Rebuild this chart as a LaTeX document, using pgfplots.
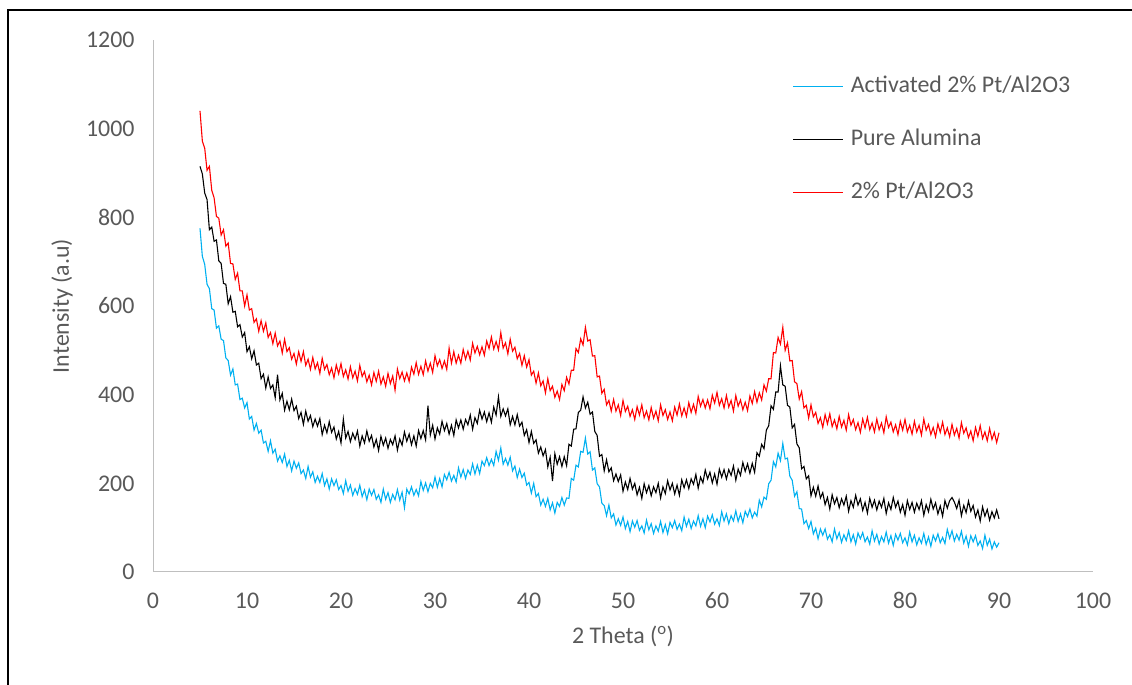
\documentclass[border=0pt]{standalone}
\usepackage{fontspec}
\setmainfont{Carlito}
\usepackage{pgfplots}
\usepackage{pgfplotstable}
\pgfplotsset{compat=1.18}
\definecolor{txt}{HTML}{595959}
\definecolor{axl}{HTML}{BFBFBF}
\definecolor{xblue}{HTML}{00B0F0}
\definecolor{xred}{HTML}{FF0000}
\pgfplotstableread{
x r k b
5.00 1040 915 775
5.25 972 898 712
5.50 956 855 694
5.75 906 840 649
6.00 915 772 639
6.25 861 778 594
6.50 844 746 591
6.75 802 749 550
7.00 798 702 555
7.25 760 696 525
7.50 772 651 522
7.75 735 649 483
8.00 742 605 477
8.25 696 621 444
8.50 695 586 458
8.75 660 588 422
9.00 674 553 424
9.25 634 558 389
9.50 634 530 392
9.75 600 540 370
10.00 625 497 382
10.25 591 508 345
10.50 594 481 351
10.75 563 499 320
11.00 571 467 335
11.25 543 471 313
11.50 567 436 320
11.75 543 446 291
12.00 562 415 295
12.25 529 440 272
12.50 540 414 296
12.75 515 422 268
13.00 539 393 277
13.25 510 445 250
13.50 521 388 262
13.75 494 403 247
14.00 525 365 266
14.25 497 385 238
14.50 506 366 252
14.75 480 390 228
15.00 493 364 250
15.25 469 374 234
15.50 497 346 246
15.75 475 360 222
16.00 497 333 230
16.25 466 363 211
16.50 480 340 238
16.75 457 353 214
17.00 484 328 226
17.25 458 345 202
17.50 472 329 216
17.75 448 346 202
18.00 482 310 222
18.25 457 331 195
18.50 468 314 210
18.75 445 339 187
19.00 460 315 210
19.25 438 327 195
19.50 467 300 208
19.75 447 317 186
20.00 470 291 195
20.25 441 345 177
20.50 456 302 206
20.75 435 317 182
21.00 463 294 196
21.25 438 313 173
21.50 453 299 188
21.75 431 318 175
22.00 466 284 196
22.25 441 307 170
22.50 452 291 185
22.75 429 318 163
23.00 444 295 187
23.25 422 308 173
23.50 450 282 186
23.75 430 299 164
24.00 453 274 174
24.25 424 306 157
24.50 440 286 187
24.75 419 302 164
25.00 448 279 179
25.25 425 299 157
25.50 442 287 175
25.75 410 307 163
26.00 458 275 186
26.25 436 300 162
26.50 451 286 180
26.75 431 316 145
27.00 449 295 187
27.25 430 311 176
27.50 462 287 192
27.75 446 307 173
28.00 472 284 186
28.25 446 319 172
28.50 464 301 204
28.75 445 319 184
29.00 476 298 201
29.25 453 375 181
29.50 471 309 200
29.75 450 331 190
30.00 488 300 214
30.25 465 325 191
30.50 479 311 211
30.75 459 340 192
31.00 476 319 220
31.25 457 335 208
31.50 505 311 225
31.75 471 331 205
32.00 497 308 218
32.25 471 343 203
32.50 489 325 235
32.75 471 343 214
33.00 502 322 231
33.25 480 344 211
33.50 498 332 230
33.75 478 354 220
34.00 516 322 244
34.25 494 348 221
34.50 509 335 241
34.75 490 365 222
35.00 508 345 250
35.25 489 361 240
35.50 521 339 258
35.75 504 359 240
36.00 530 338 254
36.25 503 372 240
36.50 520 354 272
36.75 501 395 252
37.00 540 351 280
37.25 505 368 243
37.50 517 352 256
37.75 492 368 241
38.00 525 332 259
38.25 498 351 228
38.50 507 332 239
38.75 481 355 213
39.00 493 329 232
39.25 466 338 213
39.50 488 308 223
39.75 462 321 196
40.00 479 292 202
40.25 444 317 178
40.50 453 290 200
40.75 426 298 170
41.00 449 268 177
41.25 420 282 151
41.50 431 262 164
41.75 404 276 148
42.00 436 237 166
42.25 409 259 140
42.50 419 205 156
42.75 394 267 133
43.00 408 243 157
43.25 389 260 148
43.50 423 238 168
43.75 409 260 151
44.00 439 240 167
44.25 424 288 166
44.50 455 284 211
44.75 455 322 207
45.00 504 323 241
45.25 495 360 237
45.50 526 365 272
45.75 512 395 270
46.00 552 370 302
46.25 521 383 266
46.50 524 356 271
46.75 487 361 230
47.00 488 317 235
47.25 440 308 199
47.50 442 261 192
47.75 403 265 155
48.00 412 228 150
48.25 377 253 127
48.50 387 226 151
48.75 363 235 122
49.00 389 206 131
49.25 363 221 106
49.50 377 204 120
49.75 353 219 105
50.00 387 182 124
50.25 362 203 98
50.50 374 186 114
50.75 351 211 91
51.00 366 187 115
51.25 344 200 101
51.50 373 174 116
51.75 354 191 94
52.00 377 166 104
52.25 348 199 88
52.50 363 179 117
52.75 343 195 95
53.00 371 172 109
53.25 347 192 87
53.50 363 179 104
53.75 341 200 92
54.00 377 167 114
54.25 353 192 89
54.50 366 177 107
54.75 344 206 86
55.00 361 185 112
55.25 341 200 100
55.50 372 176 116
55.75 354 196 96
56.00 379 173 108
56.25 352 208 93
56.50 370 190 124
56.75 351 208 103
57.00 382 188 119
57.25 360 210 98
57.50 378 198 115
57.75 358 220 104
58.00 396 189 127
58.25 374 214 103
58.50 389 201 120
58.75 370 230 100
59.00 388 210 126
59.25 368 225 113
59.50 399 201 129
59.75 381 221 108
60.00 405 198 120
60.25 376 232 105
60.50 391 214 136
60.75 370 231 115
61.00 398 210 131
61.25 372 231 109
61.50 387 218 127
61.75 363 239 115
62.00 398 207 138
62.25 374 232 114
62.50 388 218 131
62.75 366 247 111
63.00 383 227 137
63.25 364 244 125
63.50 397 223 142
63.75 380 245 122
64.00 407 225 135
64.25 383 269 126
64.50 404 261 162
64.75 388 288 147
65.00 422 278 169
65.25 408 320 164
65.50 436 330 199
65.75 436 375 207
66.00 495 367 249
66.25 494 406 237
66.50 529 406 268
66.75 514 465 251
67.00 552 422 290
67.25 500 419 255
67.50 517 376 257
67.75 476 372 216
68.00 477 325 207
68.25 429 333 171
68.50 425 289 181
68.75 390 280 143
69.00 407 233 142
69.25 370 238 109
69.50 376 210 116
69.75 347 217 98
70.00 377 172 114
70.25 350 191 86
70.50 360 171 99
70.75 335 194 75
71.00 348 167 97
71.25 326 179 83
71.50 355 152 97
71.75 334 168 74
72.00 357 142 84
72.25 328 174 68
72.50 343 154 97
72.75 323 168 75
73.00 351 145 89
73.25 327 165 67
73.50 342 151 84
73.75 320 171 71
74.00 355 137 93
74.25 331 161 68
74.50 344 146 84
74.75 321 173 63
75.00 337 151 88
75.25 315 165 75
75.50 345 139 89
75.75 325 157 68
76.00 349 133 79
76.25 321 166 63
76.50 336 146 93
76.75 316 162 70
77.00 345 140 85
77.25 321 160 63
77.50 336 146 80
77.75 314 166 68
78.00 350 132 90
78.25 326 156 65
78.50 338 141 82
78.75 316 168 60
79.00 332 146 85
79.25 310 160 72
79.50 340 135 87
79.75 320 152 66
80.00 344 128 77
80.25 316 161 61
80.50 331 141 90
80.75 311 157 68
81.00 340 135 83
81.25 316 155 61
81.50 331 141 77
81.75 309 161 65
82.00 345 128 87
82.25 320 152 62
82.50 333 136 79
82.75 310 164 58
83.00 326 142 83
83.25 305 156 70
83.50 334 131 86
83.75 315 149 66
84.00 338 126 78
84.25 310 161 64
84.50 325 144 96
84.75 305 161 76
85.00 333 168 93
85.25 309 158 70
85.50 324 143 85
85.75 302 162 72
86.00 337 127 92
86.25 313 150 65
86.50 325 134 81
86.75 303 160 58
87.00 318 137 82
87.25 296 150 68
87.50 326 124 82
87.75 306 140 60
88.00 330 115 70
88.25 301 147 53
88.50 316 126 83
88.75 296 141 60
89.00 324 117 74
89.25 299 136 52
89.50 315 122 68
89.75 292 140 56
90.00 314 120 66
}\xrd

\begin{document}
\begin{tikzpicture}
\useasboundingbox (0,0) rectangle (1132bp,685bp);
\draw[line width=1.5bp, black] (8bp,-5bp) -- (8bp,675bp) -- (1140bp,675bp);
\begin{axis}[
  at={(153bp,113bp)}, anchor=south west,
  scale only axis, width=940bp, height=532bp,
  xmin=0, xmax=100, ymin=0, ymax=1200,
  xtick={0,10,...,100}, ytick={0,200,...,1200},
  axis x line=bottom, axis y line=left,
  axis line style={draw=axl, line width=1bp, -},
  major tick length=0pt,
  tick label style={font=\fontsize{24}{28}\selectfont, text=txt},
  /pgf/number format/assume math mode=true,
  /pgf/number format/1000 sep={},
  yticklabel style={xshift=-15bp},
  xticklabel style={yshift=-17bp},
  xlabel={2 Theta (\textsuperscript{o})},
  ylabel={Intensity (a.u)},
  label style={font=\fontsize{24}{28}\selectfont, text=txt},
  xlabel style={at={(axis description cs:0.5,-0.122)}, anchor=center},
  ylabel style={at={(axis description cs:-0.0968,0.5)}, anchor=center},
  legend cell align=left,
  legend style={at={(axis description cs:0.677,0.937)}, anchor=north west,
    draw=none, fill=none, font=\fontsize{24}{28}\selectfont, text=txt,
    row sep=31bp, nodes={inner sep=0bp, text height=17bp, text depth=5bp}},
  legend image code/.code={\draw[#1, line width=1.2bp] (0bp,0bp) -- (50bp,0bp);},
  /tikz/every odd column/.append style={column sep=7bp},
]
\addplot[xblue, line width=1.1bp] table[x=x, y=b] {\xrd};
\addlegendentry{Activated 2\% Pt/Al2O3}
\addplot[black, line width=1.1bp] table[x=x, y=k] {\xrd};
\addlegendentry{Pure Alumina}
\addplot[xred, line width=1.1bp] table[x=x, y=r] {\xrd};
\addlegendentry{2\% Pt/Al2O3}
\end{axis}
\end{tikzpicture}
\end{document}
